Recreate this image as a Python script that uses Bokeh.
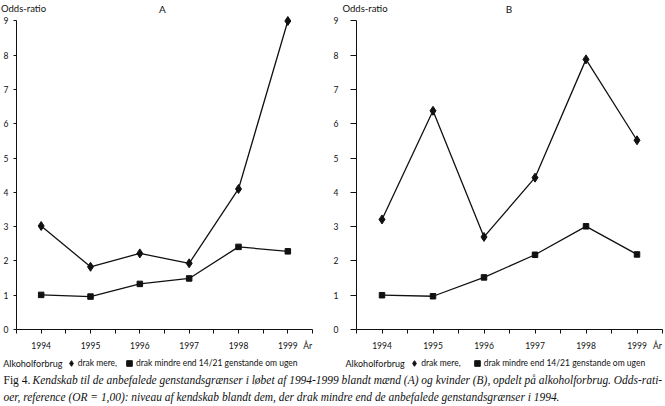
from bokeh.plotting import figure
from bokeh.models import Range1d, FixedTicker, Label, Legend, LegendItem
from bokeh.layouts import column, row
from bokeh.embed import file_html
from bokeh.resources import INLINE

# ---- data ----
years = [1994, 1995, 1996, 1997, 1998, 1999]
a_more = [3.02, 1.83, 2.22, 1.93, 4.10, 9.00]   # A: drak mere
a_less = [1.01, 0.96, 1.33, 1.49, 2.41, 2.28]   # A: drak mindre end 14/21
b_more = [3.21, 6.38, 2.70, 4.43, 7.88, 5.52]   # B: drak mere
b_less = [1.00, 0.97, 1.52, 2.18, 3.01, 2.19]   # B: drak mindre end 14/21
y_ticks = [0, 1, 2, 3, 4, 5, 6, 7, 8, 9]
half_ticks = [1993.5, 1994, 1994.5, 1995, 1995.5, 1996, 1996.5, 1997,
              1997.5, 1998, 1998.5, 1999, 1999.5]
x_unit = "År"
x_unit_pos = 1999.4
y_title = "Odds-ratio"
legend_title = "Alkoholforbrug"
label_more = "drak mere,"
label_less = "drak mindre end 14/21 genstande om ugen"
cap_fig = "Fig 4."
cap_line1 = ("Kendskab til de anbefalede genstandsgrænser i løbet af 1994-1999 blandt mænd (A) "
             "og kvinder (B), opdelt på alkoholforbrug. Odds-rati-")
cap_line2 = ("oer, reference (OR = 1,00): niveau af kendskab blandt dem, der drak mindre end de "
             "anbefalede genstandsgrænser i 1994.")

FONT = "Lato"
INK = "#111111"
W = 665


def blank(width, height):
    f = figure(width=width, height=height, x_range=Range1d(0, width),
               y_range=Range1d(0, height), output_backend="svg",
               toolbar_location=None, min_border=0)
    f.axis.visible = False
    f.grid.visible = False
    f.outline_line_color = None
    return f


def panel(more, less, width, bl, br, ytick, ystand):
    p = figure(width=width, height=338, x_range=Range1d(1993.5, 1999.5),
               y_range=Range1d(0, 9.16), output_backend="svg", toolbar_location=None,
               min_border_left=bl, min_border_right=br, min_border_top=0,
               min_border_bottom=22)
    p.xgrid.visible = False
    p.ygrid.visible = False
    p.outline_line_color = None

    xa = p.xaxis[0]
    xa.ticker = FixedTicker(ticks=years + [x_unit_pos], minor_ticks=half_ticks)
    ov = {float(y): str(y) for y in years}
    ov[x_unit_pos] = x_unit
    xa.major_label_overrides = ov
    xa.major_tick_out = 0
    xa.major_tick_in = 0
    xa.minor_tick_out = 4
    xa.minor_tick_in = 0
    xa.minor_tick_line_color = INK
    xa.axis_line_color = INK
    xa.major_label_standoff = 7
    xa.major_label_text_font = FONT
    xa.major_label_text_font_size = "8.5px"
    xa.major_label_text_color = INK

    ya = p.yaxis[0]
    ya.ticker = FixedTicker(ticks=y_ticks)
    ya.bounds = (0, 9)
    ya.major_tick_out = ytick
    ya.major_tick_in = 0
    ya.minor_tick_line_color = None
    ya.major_tick_line_color = INK
    ya.axis_line_color = INK
    ya.major_label_standoff = ystand
    ya.major_label_text_font = FONT
    ya.major_label_text_font_size = "8.5px"
    ya.major_label_text_color = INK

    p.line(years, more, line_color=INK, line_width=1.3)
    p.line(years, less, line_color=INK, line_width=1.3)
    p.scatter(years, more, marker="diamond", size=9, fill_color=INK, line_color=INK)
    p.scatter(years, less, marker="square", size=5.5, fill_color=INK, line_color=INK)
    return p


# header strip: axis title and panel letters
head = blank(W, 15)
for x, txt, align, size in [(0.5, y_title, "left", "9.5px"), (162, "A", "center", "10px"),
                            (342, y_title, "left", "9.5px"), (508.5, "B", "center", "10px")]:
    head.add_layout(Label(x=x, y=7, text=txt, text_align=align, text_baseline="middle",
                          text_font=FONT, text_font_size=size, text_color=INK))

pA = panel(a_more, a_less, 330, 12, 18, 3, 5)
pB = panel(b_more, b_less, 335, 25, 3, 6, 12)

# footer: legends and caption
foot = blank(W, 53)
# legend swatches only (kept off-canvas)
d_more = foot.scatter([-1000], [-1000], marker="diamond", size=8, fill_color=INK,
                      line_color=INK)
d_less = foot.scatter([-1000], [-1000], marker="square", size=5, fill_color=INK,
                      line_color=INK)
for x_title, x_leg, gap in [(2.7, 63.7, 5), (345, 407.3, 9)]:
    foot.add_layout(Label(x=x_title, y=43, text=legend_title, text_baseline="middle",
                          text_font=FONT, text_font_size="9px", text_color=INK))
    foot.add_layout(Legend(items=[LegendItem(label=label_more, renderers=[d_more]),
                                  LegendItem(label=label_less, renderers=[d_less])],
                           orientation="horizontal", location=(x_leg, 36), margin=0,
                           padding=0, spacing=gap, glyph_width=14, glyph_height=14,
                           label_height=14, label_standoff=-4, border_line_color=None,
                           background_fill_alpha=0, label_text_font=FONT,
                           label_text_font_size="8.5px", label_text_color=INK))
foot.add_layout(Label(x=3, y=27, text=cap_fig, text_baseline="middle",
                      text_font="Liberation Serif", text_font_size="11.5px", text_color=INK))
foot.add_layout(Label(x=32, y=27, text=cap_line1, text_baseline="middle",
                      text_font="Liberation Serif", text_font_style="italic",
                      text_font_size="11.45px", text_color=INK))
foot.add_layout(Label(x=3, y=10, text=cap_line2, text_baseline="middle",
                      text_font="Liberation Serif", text_font_style="italic",
                      text_font_size="11.45px", text_color=INK))

layout = column(head, row(pA, pB), foot)
open("out.html", "w").write(file_html(layout, INLINE))
